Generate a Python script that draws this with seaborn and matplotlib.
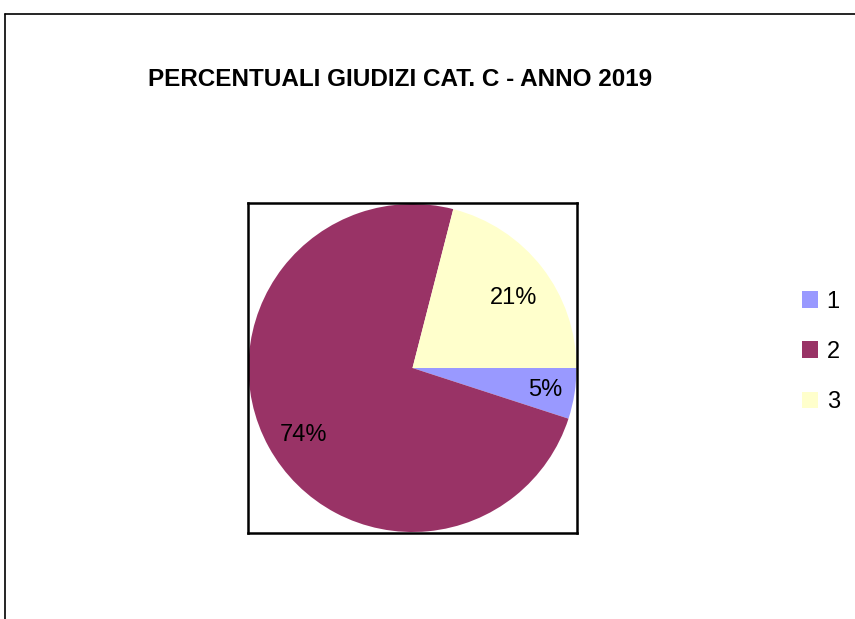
import matplotlib
matplotlib.use("Agg")
import matplotlib.pyplot as plt
import seaborn as sns
import numpy as np
from matplotlib.patches import Patch
from matplotlib.lines import Line2D

sns.set_theme(style="white")
plt.rcParams["font.family"] = ["Liberation Sans", "DejaVu Sans"]
plt.rcParams["text.color"] = "black"

title = "PERCENTUALI GIUDIZI CAT. C - ANNO 2019"
categories = ["1", "2", "3"]
values = [5, 74, 21]
colors = ["#9999FF", "#993366", "#FFFFCC"]
label_dist = [0.82, 0.78, 0.75]
label_rot = [-0.5, 3.0, -3.0]  # degrees, best-fit nudges

fig = plt.figure(figsize=(8.55, 6.19), dpi=100)
fig.patch.set_facecolor("white")

# outer chart frame (left and top visible)
fig.add_artist(Line2D([5/855, 5/855], [0, 1 - 14/619], transform=fig.transFigure, color="black", lw=1.2))
fig.add_artist(Line2D([5/855, 1], [1 - 14/619, 1 - 14/619], transform=fig.transFigure, color="black", lw=1.2))

ax = fig.add_axes([248/855, 1 - 533/619, 329/855, 330/619])
wedges, texts, autotexts = ax.pie(
    values, colors=colors, startangle=0, counterclock=False,
    autopct=lambda p: f"{p:.0f}%", pctdistance=0.78,
    wedgeprops=dict(linewidth=0), textprops=dict(fontsize=17, color="black"),
)
for w, t, d, r in zip(wedges, autotexts, label_dist, label_rot):
    th = np.deg2rad((w.theta1 + w.theta2) / 2 + r)
    t.set_position((d * np.cos(th), d * np.sin(th)))
ax.set_xlim(-1.003, 1.003)
ax.set_ylim(-1.006, 1.006)
ax.set_aspect("auto")
ax.set_frame_on(True)
for s in ax.spines.values():
    s.set_visible(True)
    s.set_color("black")
    s.set_linewidth(1.8)

fig.text(400/855, 1 - 79/619, title, ha="center", va="center", fontsize=17.5,
         fontweight="bold", color="black")

handles = [Patch(facecolor=c, edgecolor="none") for c in colors]
leg = fig.legend(handles, categories, loc="center left", bbox_to_anchor=(790/855, 1 - 352/619),
                 frameon=False, fontsize=17, handlelength=0.7, handleheight=0.7,
                 handletextpad=0.35, labelspacing=1.2, borderpad=0)
for t in leg.get_texts():
    t.set_color("black")

fig.savefig("out.png", dpi=100, facecolor="white")
